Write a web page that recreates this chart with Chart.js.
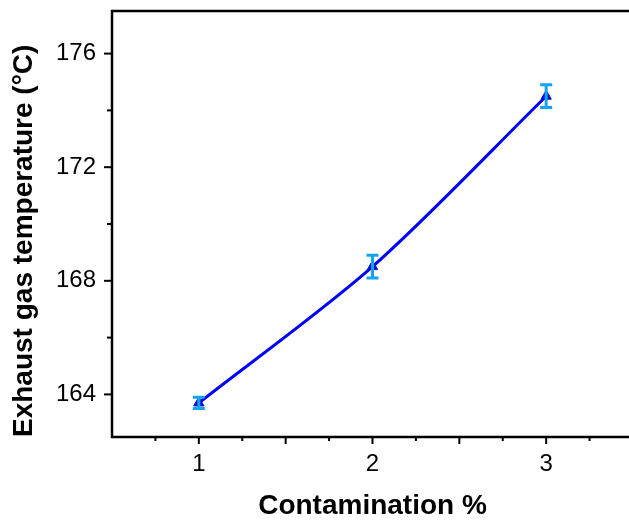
<!DOCTYPE html>
<html>
<head>
<meta charset="utf-8">
<script src="https://cdn.jsdelivr.net/npm/chart.js@4/dist/chart.umd.min.js"></script>
<style>
    html, body { margin: 0; padding: 0; background: #fff; overflow: hidden; }
    #wrap { width: 640px; height: 520px; }
</style>
</head>
<body>
<div id="wrap"><canvas id="grafico" width="640" height="520"></canvas></div>
<script>
// --- DATOS ---
const contaminacion = [1, 2, 3];
const temperatura = [163.7, 168.5, 174.5];
const errorTemp = [0.2, 0.4, 0.4];
const ticksX = [1, 2, 3];
const ticksY = [164, 168, 172, 176];

const AZUL_LINEA = '#0000ff';
const AZUL_ERROR = '#12a3f5';
const FUENTE = 'Liberation Sans, Arial';

// Marco, marcas de ejes y barras de error
const pluginMarco = {
    id: 'marco',
    afterDatasetsDraw(chart) {
        const { ctx, chartArea: a, scales: { x, y } } = chart;
        ctx.save();

        // barras de error
        ctx.strokeStyle = AZUL_ERROR;
        ctx.lineWidth = 3;
        contaminacion.forEach((c, i) => {
            const px = x.getPixelForValue(c);
            const top = y.getPixelForValue(temperatura[i] + errorTemp[i]);
            const bot = y.getPixelForValue(temperatura[i] - errorTemp[i]);
            ctx.beginPath();
            ctx.moveTo(px, top); ctx.lineTo(px, bot);
            ctx.moveTo(px - 6, top); ctx.lineTo(px + 6, top);
            ctx.moveTo(px - 6, bot); ctx.lineTo(px + 6, bot);
            ctx.stroke();
        });

        // marco
        ctx.strokeStyle = '#000';
        ctx.lineWidth = 2.5;
        ctx.strokeRect(a.left, a.top, a.right - a.left, a.bottom - a.top);

        // marcas en X (cada 0.25, mayores cada 0.5)
        ctx.lineWidth = 2;
        for (let v = 0.75; v < 3.5; v += 0.25) {
            const px = x.getPixelForValue(v);
            const largo = (v * 2) % 1 === 0 ? 7 : 4;
            ctx.beginPath();
            ctx.moveTo(px, a.bottom);
            ctx.lineTo(px, a.bottom + largo);
            ctx.stroke();
        }
        // marcas en Y (cada 2, mayores cada 4)
        for (let v = 164; v <= 176; v += 2) {
            const py = y.getPixelForValue(v);
            const largo = v % 4 === 0 ? 8 : 5;
            ctx.beginPath();
            ctx.moveTo(a.left, py);
            ctx.lineTo(a.left - largo, py);
            ctx.stroke();
        }
        ctx.restore();
    }
};

new Chart(document.getElementById('grafico'), {
    type: 'line',
    data: {
        datasets: [{
            data: contaminacion.map((c, i) => ({ x: c, y: temperatura[i] })),
            borderColor: AZUL_LINEA,
            borderWidth: 3,
            tension: 0.3,
            pointStyle: 'triangle',
            pointRadius: 6,
            pointBackgroundColor: '#1010c8',
            pointBorderColor: '#1010c8',
            pointBorderWidth: 1
        }]
    },
    options: {
        responsive: false,
        animation: false,
        layout: { padding: { left: 0, top: 11, right: 6, bottom: 0 } },
        plugins: { legend: { display: false }, tooltip: { enabled: false } },
        scales: {
            x: {
                type: 'linear',
                min: 0.5,
                max: 3.5,
                afterBuildTicks: s => { s.ticks = ticksX.map(v => ({ value: v })); },
                afterFit: s => { s.height = 83; s.paddingLeft = 0; s.paddingRight = 0; },
                grid: { display: false, drawTicks: false },
                border: { display: false },
                ticks: {
                    padding: 13,
                    color: '#000',
                    font: { family: FUENTE, size: 24 },
                    maxRotation: 0
                },
                title: {
                    display: true,
                    text: 'Contamination %',
                    color: '#000',
                    font: { family: FUENTE, size: 28, weight: 'bold', lineHeight: 1 },
                    padding: { top: 0, bottom: 0 }
                }
            },
            y: {
                min: 162.5,
                max: 177.5,
                afterBuildTicks: s => { s.ticks = ticksY.map(v => ({ value: v })); },
                afterFit: s => { s.width = 112; s.paddingTop = 0; s.paddingBottom = 0; },
                grid: { display: false, drawTicks: false },
                border: { display: false },
                ticks: {
                    padding: 16,
                    color: '#000',
                    font: { family: FUENTE, size: 24 }
                },
                title: {
                    display: true,
                    align: 'start',
                    text: 'Exhaust gas temperature (°C)',
                    color: '#000',
                    font: { family: FUENTE, size: 28, weight: 'bold', lineHeight: 1 },
                    padding: { top: 10, bottom: 0 }
                }
            }
        }
    },
    plugins: [pluginMarco]
});
</script>
</body>
</html>
